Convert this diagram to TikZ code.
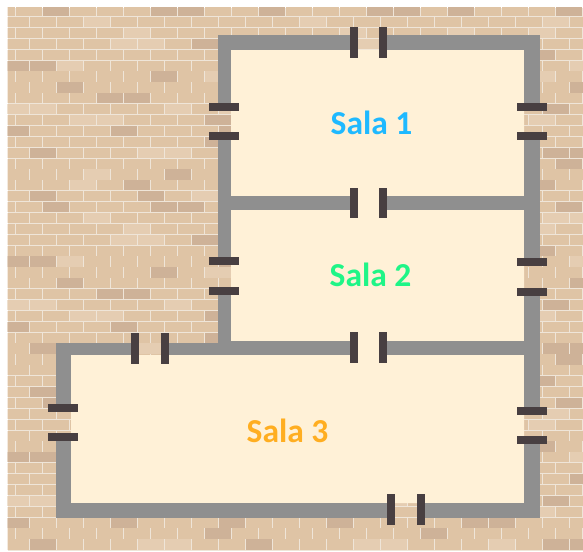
\documentclass[tikz,border=0pt]{standalone}
\usepackage{fontspec}
\setmainfont{Carlito}
\definecolor{mortar}{HTML}{EFE5D8}
\definecolor{bricknorm}{HTML}{DFC4A5}
\definecolor{brickdark}{HTML}{CEB298}
\definecolor{bricklight}{HTML}{E5CDB2}
\definecolor{cream}{HTML}{FFF1D7}
\definecolor{wallgray}{HTML}{8F8F8F}
\definecolor{bardark}{HTML}{483F41}
\definecolor{salaA}{HTML}{1FB9FF}
\definecolor{salaB}{HTML}{1FF587}
\definecolor{salaC}{HTML}{FFAE21}
\newcommand{\brk}[3]{%
  \pgfmathsetmacro{\rowtop}{6.2+10.88*#1}%
  \pgfmathsetmacro{\rowbot}{\rowtop+10.2}%
  \pgfmathsetmacro{\brkx}{ifthenelse(mod(#1,2)==0,16.3+27*#2,2.7+27*#2)}%
  \pgfmathsetmacro{\brkxx}{\brkx+26}%
  \fill[#3] (\brkx,\rowtop) rectangle (\brkxx,\rowbot);}
\tikzset{
  wall/.style={fill=wallgray},
  barshape/.style={fill=bardark},
  salalabel/.style={font=\fontsize{33.5}{33.5}\selectfont\bfseries,inner sep=0pt}
}
\begin{document}
\begin{tikzpicture}[x=1pt,y=-1pt]
\useasboundingbox (0,0) rectangle (583,551);
\begin{scope}
\clip (7.5,8) rectangle (583,551);
\fill[mortar] (7.5,8) rectangle (583,551);
\foreach \r in {0,...,49}{\foreach \k in {-1,...,21}{\brk{\r}{\k}{bricknorm}}}
\foreach \r/\k in {0/1,0/5,0/6,3/7,5/0,5/1,6/5,7/2,8/3,8/4,10/7,11/0,11/4,12/7,13/1,15/6,16/4,17/1,17/5}{
  \foreach \n in {0,1,2}{\foreach \m in {0,1}{
    \pgfmathtruncatemacro{\rr}{\r+18*\n}\pgfmathtruncatemacro{\kk}{\k+8*\m}
    \ifnum\rr<50 \brk{\rr}{\kk}{brickdark}\fi}}}
\foreach \r/\k in {1/3,2/4,3/4,3/5,5/2,6/7,9/0,9/1,9/6,10/2,10/3,13/5,13/6,15/3,16/2,17/7}{
  \foreach \n in {0,1,2}{\foreach \m in {0,1}{
    \pgfmathtruncatemacro{\rr}{\r+18*\n}\pgfmathtruncatemacro{\kk}{\k+8*\m}
    \ifnum\rr<50 \brk{\rr}{\kk}{bricklight}\fi}}}
\foreach \r/\k in {0/16,0/20,4/19,7/21,9/20,13/20,13/21,14/20,16/19,18/20,22/19,25/21,27/20,31/20,31/21,32/20,34/19,36/20,40/19,43/21,45/20,47/17,47/18,49/20,49/21}{\brk{\r}{\k}{brickdark}}
\foreach \r/\k in {1/20,2/16,2/19,5/21,6/19,10/19,19/20,19/21,20/19,23/21,28/19,37/20,38/19,41/21,46/19,49/18}{\brk{\r}{\k}{bricklight}}
\end{scope}
% floor
\fill[cream] (231,50) -- (524,50) -- (524,503) -- (71,503) -- (71,355) -- (231,355) -- cycle;
% walls
\fill[wall] (218,35) rectangle (353,50);
\fill[wall] (383,35) rectangle (539.7,50);
\fill[wall] (218,35) rectangle (231,107);
\fill[wall] (218,136) rectangle (231,261);
\fill[wall] (218,291) rectangle (231,355);
\fill[wall] (524,35) rectangle (539.7,106);
\fill[wall] (524,136) rectangle (539.7,262);
\fill[wall] (524,292) rectangle (539.7,410);
\fill[wall] (524,440) rectangle (539.7,518);
\fill[wall] (231,196) rectangle (353,210);
\fill[wall] (383,196) rectangle (524,210);
\fill[wall] (231,341) rectangle (353,355);
\fill[wall] (383,341) rectangle (524,355);
\fill[wall] (56,342.5) rectangle (135,355);
\fill[wall] (165,342.5) rectangle (231,355);
\fill[wall] (56,342.5) rectangle (71,407);
\fill[wall] (56,437) rectangle (71,518);
\fill[wall] (56,503) rectangle (391,518);
\fill[wall] (420,503) rectangle (539.7,518);
% vertical bars
\foreach \xa/\ya in {349.5/27.3,379.1/27.3,349.5/187.5,379.1/187.5,349.5/332.3,379.1/332.3,131.1/333.1,160.8/333.1,386.8/494.1,416.6/494.1}{
  \path[barshape] (\xa,\ya) rectangle ++(8,30.4);}
% horizontal bars
\foreach \xa/\ya in {208.5/102.8,208.5/132.4,516.8/102.6,516.8/132.2,208.5/257.3,208.5/287.3,516.6/257.8,516.6/287.8,516.6/406.5,516.6/436.2,47.6/403.6,47.6/433.2}{
  \path[barshape] (\xa,\ya) rectangle ++(30.4,8);}
\node[salalabel,text=salaA] (sala1) at (371.5,123) {Sala 1};
\node[salalabel,text=salaB] (sala2) at (370.5,275) {Sala 2};
\node[salalabel,text=salaC] (sala3) at (287.5,431) {Sala 3};
\end{tikzpicture}
\end{document}
